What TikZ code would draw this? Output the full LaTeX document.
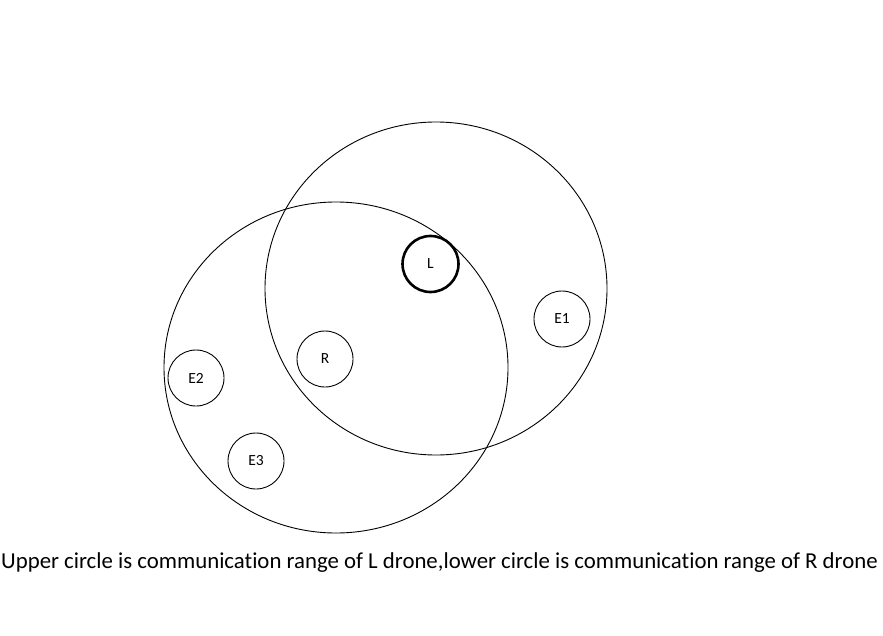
\documentclass[tikz,border=0pt]{standalone}
\usepackage{fontspec}
\setmainfont{Carlito}[Ligatures={NoCommon}]
\usetikzlibrary{shapes.geometric}

\tikzset{
	drone/.style={draw,circle,minimum size=56pt,inner sep=0pt,font=\fontsize{15.5}{18}\selectfont},
	commrange/.style={draw,ellipse,inner sep=0pt,line width=0.9pt}
}

\begin{document}
\begin{tikzpicture}[x=1pt,y=-1pt]
			\useasboundingbox (0,0) rectangle (883,636);
			\node[commrange,minimum width=342pt,minimum height=333pt] (RangeL) at (436,288.5) {};
			\node[commrange,minimum width=344pt,minimum height=331pt] (RangeR) at (336,367.5) {};
			
			\node[drone,line width=2.6pt] (L) at (430.5,264) {L};
			\node[drone,line width=0.9pt] (E1) at (562,319) {E1};
			\node[drone,line width=0.9pt] (R) at (325,359) {R};
			\node[drone,line width=0.9pt] (E2) at (196,378) {E2};
			\node[drone,line width=0.9pt] (E3) at (256,461) {E3};
			
				\node[anchor=base west,inner sep=0pt,font=\fontsize{22.8}{26}\selectfont] (Caption) at (1,568) {Upper circle is communication range of L drone,lower circle is communication range of R drone};
				
				\end{tikzpicture}
\end{document}
